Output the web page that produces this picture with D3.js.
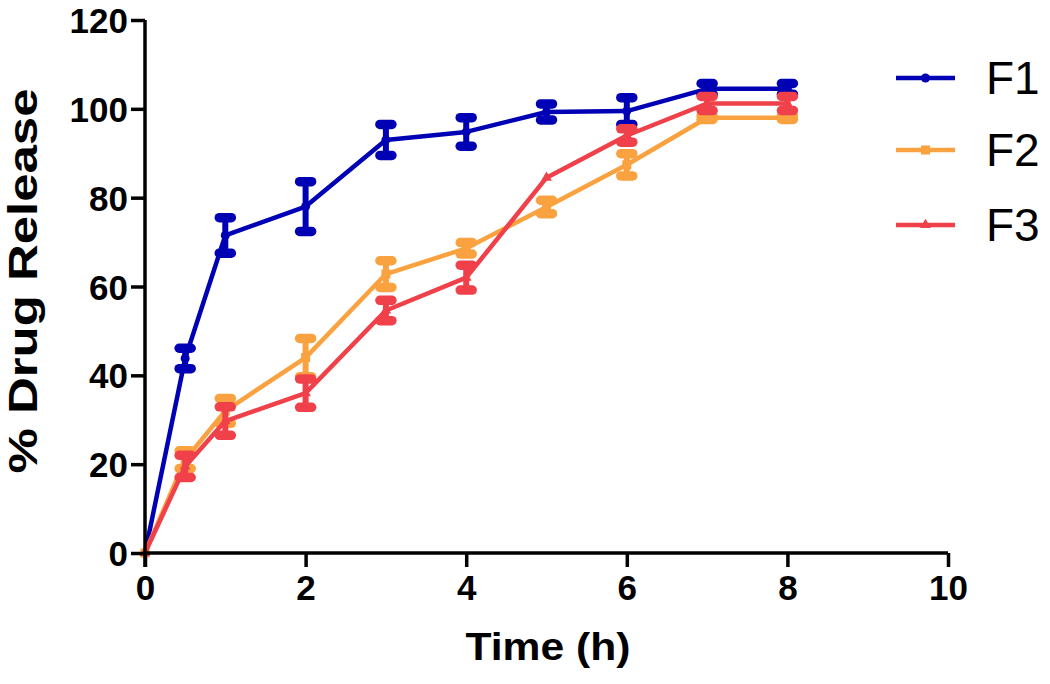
<!DOCTYPE html>
<html><head><meta charset="utf-8">
<script src="https://cdn.jsdelivr.net/npm/d3@7"></script>
<style>html,body{margin:0;padding:0;background:#fff;}svg{display:block;}</style>
</head><body>
<script>
const time = [0, 0.5, 1, 2, 3, 4, 5, 6, 7, 8];
const f1Mean = [0, 43.8, 71.5, 78, 93, 94.8, 99.3, 99.5, 104.5, 104.5];
const f1SD   = [0, 2.3, 4, 5.6, 3.5, 3.2, 1.8, 3, 1.2, 1.2];
const f2Mean = [0, 21, 32, 44, 62.8, 68.6, 77.9, 87.4, 98, 98];
const f2SD   = [0, 2, 2.8, 4.3, 3, 1.3, 1.5, 2.5, 0.4, 0.4];
const f3Mean = [0, 19.5, 29.7, 36, 54.6, 62, 84.5, 94, 101.2, 101.2];
const f3SD   = [0, 2.5, 3.2, 3.2, 2.3, 2.8, 0, 1.5, 1.6, 1.6];
const seriesNames = ["F1", "F2", "F3"];
const seriesColors = ["#0000b4", "#f9a23f", "#f0404a"];
const xTicks = [0, 2, 4, 6, 8, 10];
const yTicks = [0, 20, 40, 60, 80, 100, 120];

const W = 1050, H = 684;
const svg = d3.select("body").append("svg").attr("width", W).attr("height", H);
svg.append("rect").attr("width", W).attr("height", H).attr("fill", "#fff");

const x = d3.scaleLinear().domain([0, 10]).range([145, 948]);
const y = d3.scaleLinear().domain([0, 120]).range([553, 20]);

const series = [
  {name: seriesNames[0], color: seriesColors[0], mean: f1Mean, sd: f1SD, marker: "circle"},
  {name: seriesNames[1], color: seriesColors[1], mean: f2Mean, sd: f2SD, marker: "square"},
  {name: seriesNames[2], color: seriesColors[2], mean: f3Mean, sd: f3SD, marker: "triangle"}
];

function drawMarker(g, type, cx, cy, color, s) {
  if (type === "circle") g.append("circle").attr("cx", cx).attr("cy", cy).attr("r", 4.5*s).attr("fill", color);
  else if (type === "square") g.append("rect").attr("x", cx-4.5*s).attr("y", cy-4.5*s).attr("width", 9*s).attr("height", 9*s).attr("fill", color);
  else g.append("path").attr("d", d3.symbol(d3.symbolTriangle, 50*s*s)()).attr("transform", `translate(${cx},${cy})`).attr("fill", color);
}

const plot = svg.append("g");
series.forEach(s => {
  const g = plot.append("g");
  const pts = time.map((t, i) => ({t, m: s.mean[i], sd: s.sd[i]}));
  g.append("path").datum(pts)
    .attr("d", d3.line().x(d => x(d.t)).y(d => y(d.m)))
    .attr("fill", "none").attr("stroke", s.color).attr("stroke-width", 4.5).attr("stroke-linejoin", "round");
  pts.forEach(d => {
    if (d.sd > 0) {
      g.append("line").attr("x1", x(d.t)).attr("x2", x(d.t)).attr("y1", y(d.m + d.sd)).attr("y2", y(d.m - d.sd))
        .attr("stroke", s.color).attr("stroke-width", 6);
      [d.m + d.sd, d.m - d.sd].forEach(v => {
        g.append("line").attr("x1", x(d.t) - 6).attr("x2", x(d.t) + 6).attr("y1", y(v)).attr("y2", y(v))
          .attr("stroke", s.color).attr("stroke-width", 9.5).attr("stroke-linecap", "round");
      });
    }
    drawMarker(g, s.marker, x(d.t), y(d.m), s.color, 1);
  });
});

const axisFont = "'Liberation Sans', Arial, sans-serif";
const xAxis = svg.append("g").attr("transform", `translate(0,${y(0)})`)
  .call(d3.axisBottom(x).tickValues(xTicks).tickSize(14).tickPadding(8).tickFormat(d3.format("d")));
const yAxis = svg.append("g").attr("transform", `translate(${x(0)},0)`)
  .call(d3.axisLeft(y).tickValues(yTicks).tickSize(14).tickPadding(3).tickFormat(d3.format("d")));
[xAxis, yAxis].forEach(a => {
  a.select(".domain").attr("stroke", "#000").attr("stroke-width", 3.5);
  a.selectAll(".tick line").attr("stroke", "#000").attr("stroke-width", 3.5);
  a.selectAll(".tick text").attr("fill", "#000").attr("font-family", axisFont)
    .attr("font-weight", "bold").attr("font-size", 35);
});
xAxis.select(".domain").attr("d", `M${x(0)},0H${x(10)}`);
yAxis.select(".domain").attr("d", `M0,${y(120)}V${y(0) + 14}`);
xAxis.selectAll(".tick text").attr("dy", "0.71em");
yAxis.selectAll(".tick text").attr("dy", "0.36em");

svg.append("text").attr("x", 548).attr("y", 660).attr("text-anchor", "middle")
  .attr("font-family", axisFont).attr("font-weight", "bold").attr("font-size", 39)
  .attr("textLength", 165).attr("lengthAdjust", "spacingAndGlyphs").text("Time (h)");
svg.append("text").attr("transform", "translate(37,281) rotate(-90)").attr("text-anchor", "middle")
  .attr("font-family", axisFont).attr("font-weight", "bold").attr("font-size", 41)
  .attr("textLength", 385).attr("lengthAdjust", "spacingAndGlyphs").text("% Drug Release");

const legY = [78, 150, 225];
series.forEach((s, i) => {
  const g = svg.append("g");
  g.append("line").attr("x1", 896).attr("x2", 955).attr("y1", legY[i]).attr("y2", legY[i])
    .attr("stroke", s.color).attr("stroke-width", 4.5);
  drawMarker(g, s.marker, 925.5, legY[i], s.color, 1);
  g.append("text").attr("x", 986).attr("y", legY[i] + 16).attr("font-family", axisFont)
    .attr("font-size", 46).attr("fill", "#000").text(s.name);
});
</script>
</body></html>
